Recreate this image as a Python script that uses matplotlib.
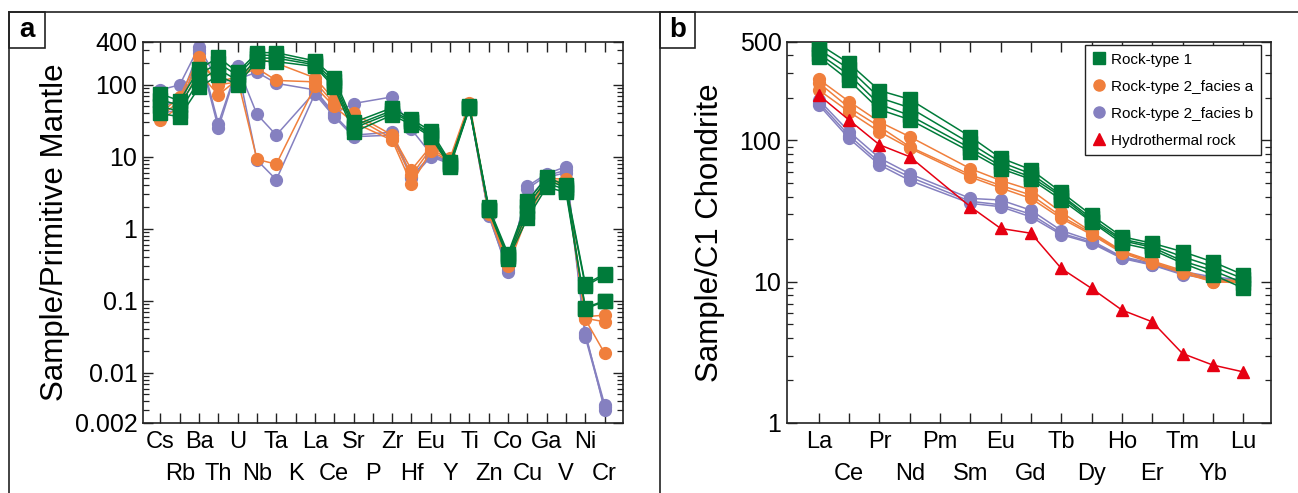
import numpy as np
import matplotlib
matplotlib.use("Agg")
import matplotlib.pyplot as plt
from matplotlib.lines import Line2D
from matplotlib.patches import Rectangle
from matplotlib.ticker import FixedLocator, LogLocator, NullFormatter

plt.rcParams['font.family'] = ['Liberation Sans', 'DejaVu Sans']

nan = np.nan

# --- panel a: primitive-mantle normalised spider diagram ---
pm_elements = ['Cs', 'Rb', 'Ba', 'Th', 'U', 'Nb', 'Ta', 'K', 'La', 'Ce', 'Sr', 'P',
               'Zr', 'Hf', 'Eu', 'Y', 'Ti', 'Zn', 'Co', 'Cu', 'Ga', 'V', 'Ni', 'Cr']

pm_rock1 = [
    [75, 60, 165, 240, 150, 280, 280, nan, 215, 125, 30, nan, 48, 33, 23, 8.5, 50, 2.0, 0.45, 2.4, 5.2, 4.0, 0.17, 0.235],
    [62, 52, 140, 200, 135, 260, 255, nan, 200, 112, 27, nan, 44, 31, 21, 8.0, 49, 1.9, 0.42, 2.1, 4.8, 3.7, 0.16, 0.225],
    [50, 43, 115, 165, 115, 235, 235, nan, 190, 100, 25, nan, 41, 30, 20, 7.7, 48, 1.85, 0.40, 1.7, 4.3, 3.5, 0.08, 0.10],
    [40, 36, 92, 135, 100, 215, 210, nan, 180, 92, 22, nan, 38, 28, 19, 7.3, 47, 1.8, 0.38, 1.4, 3.8, 3.2, 0.077, 0.098],
]
pm_rock2a = [
    [40, 68, 240, 100, 110, 230, 200, nan, 125, 62, 40, nan, 20, 6.6, 14, 9.6, 56, 1.8, 0.34, 2.0, 5.0, 4.9, 0.060, 0.063],
    [36, 60, 200, 110, 130, 170, 115, nan, 110, 55, 36, nan, 18, 5.5, 13, 9.0, 53, 1.7, 0.32, 1.8, 4.7, 4.5, 0.057, 0.051],
    [32, 50, 150, 72, 120, 9.2, 7.9, nan, 95, 50, 30, nan, 17, 4.2, 12, 8.6, 50, 1.6, 0.30, 1.5, 4.4, 4.2, 0.055, 0.0186],
]
pm_rock2b = [
    [85, 100, 340, 110, 120, 150, 105, nan, 85, 40, 55, nan, 68, 24, 11, 8.5, 50, 1.55, 0.25, 3.9, 5.8, 7.3, 0.033, 0.0036],
    [50, 60, 300, 29, 180, 39, 20, nan, 80, 38, 20, nan, 22, 5.3, 10.6, 8.2, 49, 1.5, 0.27, 3.6, 5.5, 6.5, 0.036, 0.0030],
    [40, 45, 280, 25, 175, 9.0, 4.8, nan, 75, 36, 19, nan, 20, 5.0, 10, 8.0, 48, 1.6, 0.30, 2.5, 5.2, 6.0, 0.031, 0.0033],
]

# --- panel b: chondrite-normalised REE ---
ree_elements = ['La', 'Ce', 'Pr', 'Nd', 'Pm', 'Sm', 'Eu', 'Gd', 'Tb', 'Dy', 'Ho', 'Er', 'Tm', 'Yb', 'Lu']

ree_rock1 = [
    [480, 350, 225, 195, nan, 106, 75, 62, 43, 29.5, 20.8, 18.7, 16.3, 13.8, 11.2],
    [440, 320, 200, 170, nan, 95, 70, 58, 41, 28, 20, 18, 15, 12.8, 10.5],
    [410, 290, 180, 150, nan, 88, 66, 55, 40, 27, 19.5, 17.5, 14, 12, 9.8],
    [390, 265, 165, 140, nan, 83, 63, 53, 38, 26.5, 18.7, 16.8, 13.5, 11.2, 9.0],
]
ree_rock2a = [
    [270, 188, 135, 106, nan, 63, 52, 44.5, 31, 22.5, 16.5, 14, 12, 10.3, 10.2],
    [255, 170, 125, 90, nan, 57, 48, 41, 29, 22, 16.3, 13.8, 11.7, 10, 10],
    [227, 159, 115, 88, nan, 55, 46, 38.8, 28, 21.5, 16, 13.5, 11.5, 10, 9.8],
]
ree_rock2b = [
    [193, 115, 75, 58, nan, 38.8, 37.8, 32, 23, 19.5, 15, 13.5, 11.8, 10.8, 10.3],
    [185, 108, 70, 55, nan, 37, 35, 30, 22, 19, 14.8, 13.2, 11.4, 10.6, 10],
    [178, 103, 67, 52, nan, 35.8, 33.9, 28.7, 21.5, 18.7, 14.6, 13.1, 11.2, 10.4, 9.8],
]
ree_hydro = [209, 139, 93, 76.5, nan, 33.9, 23.8, 22, 12.4, 8.96, 6.3, 5.2, 3.1, 2.57, 2.3]

GREEN = '#007b3a'
ORANGE = '#f07f3c'
PURPLE = '#8580c0'
RED = '#e60012'


def draw_group(ax, x, rows, color, marker, ms, z):
    for row in rows:
        y = np.array(row, dtype=float)
        m = ~np.isnan(y)  # missing elements are skipped, line joins neighbours
        ax.plot(x[m], y[m], color=color, lw=1.1, marker=marker, ms=ms,
                mec=color, mfc=color, zorder=z)


def style_axis(ax, labels, yticks, yticklabels, ylim):
    x = np.arange(1, len(labels) + 1)
    ax.set_yscale('log')
    ax.set_ylim(*ylim)
    # odd elements on the first row (major), even ones on the second row (minor)
    ax.set_xticks(x[::2])
    ax.set_xticklabels(labels[::2], fontsize=17)
    ax.set_xticks(x[1::2], minor=True)
    ax.set_xticklabels(labels[1::2], minor=True, fontsize=17)
    ax.yaxis.set_major_locator(FixedLocator(yticks))
    ax.set_yticklabels(yticklabels, fontsize=18)
    ax.yaxis.set_minor_locator(LogLocator(base=10, subs=np.arange(2, 10), numticks=50))
    ax.yaxis.set_minor_formatter(NullFormatter())
    ax.tick_params(which='both', direction='in', top=True, right=True, color='#222222')
    ax.tick_params(axis='x', which='major', length=7, width=1.0, pad=6)
    ax.tick_params(axis='x', which='minor', length=7, width=1.0, pad=29)
    ax.tick_params(axis='y', which='major', length=7, width=1.0, pad=4)
    ax.tick_params(axis='y', which='minor', length=4, width=0.9)
    for sp in ax.spines.values():
        sp.set_linewidth(1.2)
        sp.set_color('#222222')


fig = plt.figure(figsize=(12.98, 4.93), dpi=100)

W, H = 1298.0, 493.0
ax_bottom = 1 - 423 / H
ax_height = (423 - 41.5) / H

# panel a
ax1 = fig.add_axes([143 / W, ax_bottom, 480 / W, ax_height])
xa = np.arange(1, len(pm_elements) + 1)
draw_group(ax1, xa, pm_rock2b, PURPLE, 'o', 8.5, 2)
draw_group(ax1, xa, pm_rock2a, ORANGE, 'o', 8.5, 3)
draw_group(ax1, xa, pm_rock1, GREEN, 's', 10, 4)
style_axis(ax1, pm_elements, [0.002, 0.01, 0.1, 1, 10, 100, 400],
           ['0.002', '0.01', '0.1', '1', '10', '100', '400'], (0.002, 400))
ax1.set_xlim(0.1, 24.95)
ax1.set_ylabel('Sample/Primitive Mantle', fontsize=22.5)
ax1.yaxis.set_label_coords(-0.152, 0.5)

# panel b
ax2 = fig.add_axes([787 / W, ax_bottom, 484 / W, ax_height])
xb = np.arange(1, len(ree_elements) + 1)
draw_group(ax2, xb, ree_rock2b, PURPLE, 'o', 8.5, 2)
draw_group(ax2, xb, ree_rock2a, ORANGE, 'o', 8.5, 3)
draw_group(ax2, xb, ree_rock1, GREEN, 's', 10, 4)
draw_group(ax2, xb, [ree_hydro], RED, '^', 9, 5)
style_axis(ax2, ree_elements, [1, 10, 100, 500], ['1', '10', '100', '500'], (1, 500))
ax2.set_xlim(-0.05, 15.92)
ax2.set_ylabel('Sample/C1 Chondrite', fontsize=22.5)
ax2.yaxis.set_label_coords(-0.128, 0.5)

handles = [
    Line2D([], [], ls='none', marker='s', ms=8, color=GREEN, label='Rock-type 1'),
    Line2D([], [], ls='none', marker='o', ms=8, color=ORANGE, label='Rock-type 2_facies a'),
    Line2D([], [], ls='none', marker='o', ms=8, color=PURPLE, label='Rock-type 2_facies b'),
    Line2D([], [], ls='none', marker='^', ms=8, color=RED, label='Hydrothermal rock'),
]
leg = ax2.legend(handles=handles, loc='upper right', bbox_to_anchor=(0.98, 0.991),
                 borderaxespad=0, fontsize=11, frameon=True, fancybox=False,
                 edgecolor='#222222', framealpha=1, labelspacing=0.85,
                 handlelength=0.8, handletextpad=0.4, borderpad=0.5)
leg.get_frame().set_linewidth(1.0)

# outer frame and panel labels
line_kw = dict(transform=fig.transFigure, color='#222222', lw=1.2)
fig.add_artist(Line2D([9 / W, 1.0], [1 - 12 / H, 1 - 12 / H], **line_kw))
fig.add_artist(Line2D([9 / W, 9 / W], [0, 1 - 12 / H], **line_kw))
fig.add_artist(Line2D([660 / W, 660 / W], [0, 1 - 12 / H], **line_kw))
for x0, x1, lab in [(9, 45, 'a'), (660, 695, 'b')]:
    fig.add_artist(Rectangle((x0 / W, 1 - 48 / H), (x1 - x0) / W, 36 / H,
                             transform=fig.transFigure, fill=False,
                             edgecolor='#222222', lw=1.2))
    fig.text((x0 + x1) / 2 / W, 1 - 30 / H, lab, fontsize=20, fontweight='bold',
             ha='center', va='center')

fig.savefig('out.png', dpi=100)
